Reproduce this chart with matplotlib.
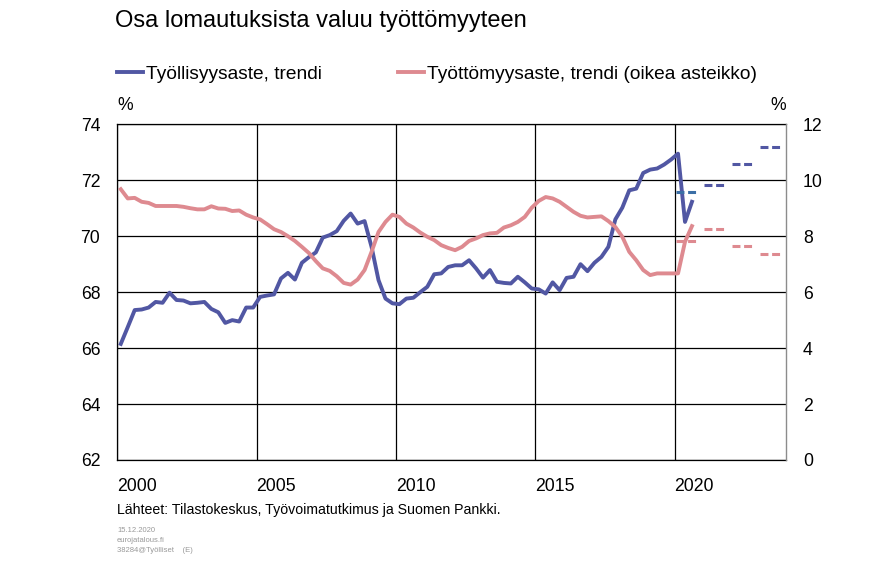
import numpy as np
import pandas as pd
import matplotlib
matplotlib.use("Agg")
import matplotlib.pyplot as plt

plt.rcParams['font.family'] = ['Liberation Sans', 'DejaVu Sans']

# quarterly trend series, 2000Q1 - 2020Q3
quarters = pd.period_range('2000Q1', '2020Q3', freq='Q')

employment = [
    66.15, 66.75, 67.36, 67.38,
    67.45, 67.65, 67.62, 67.98,
    67.72, 67.70, 67.60, 67.62,
    67.65, 67.40, 67.28, 66.90,
    67.00, 66.95, 67.45, 67.45,
    67.83, 67.88, 67.92, 68.49,
    68.69, 68.45, 69.05, 69.25,
    69.42, 69.95, 70.04, 70.18,
    70.55, 70.81, 70.45, 70.54,
    69.62, 68.43, 67.77, 67.60,
    67.57, 67.77, 67.80, 68.00,
    68.19, 68.64, 68.67, 68.90,
    68.96, 68.96, 69.14, 68.85,
    68.52, 68.79, 68.37, 68.33,
    68.31, 68.55, 68.35, 68.13,
    68.10, 67.95, 68.35, 68.07,
    68.51, 68.55, 69.00, 68.75,
    69.05, 69.26, 69.62, 70.60,
    71.02, 71.64, 71.70, 72.26,
    72.38, 72.42, 72.56, 72.74,
    72.95, 70.51, 71.23,
]

unemployment = [
    9.68, 9.35, 9.37, 9.23,
    9.19, 9.08, 9.08, 9.08,
    9.08, 9.05, 9.00, 8.96,
    8.96, 9.07, 8.99, 8.98,
    8.90, 8.92, 8.77, 8.67,
    8.60, 8.43, 8.25, 8.15,
    8.00, 7.83, 7.62, 7.40,
    7.11, 6.85, 6.76, 6.57,
    6.33, 6.27, 6.45, 6.79,
    7.44, 8.15, 8.51, 8.77,
    8.69, 8.45, 8.31, 8.13,
    7.98, 7.86, 7.68, 7.58,
    7.50, 7.62, 7.83, 7.92,
    8.04, 8.10, 8.12, 8.31,
    8.39, 8.51, 8.69, 9.02,
    9.26, 9.40, 9.35, 9.23,
    9.05, 8.87, 8.73, 8.67,
    8.69, 8.71, 8.54, 8.33,
    7.98, 7.44, 7.14, 6.79,
    6.61, 6.67, 6.67, 6.67,
    6.67, 7.80, 8.36,
]

# annual forecasts (E)
fc_years = [2020, 2021, 2022, 2023]
fc_employment = [71.58, 71.82, 72.57, 73.19]
fc_unemployment = [7.82, 8.27, 7.64, 7.35]

year_ticks = [2000, 2005, 2010, 2015, 2020]
left_ticks = [62, 64, 66, 68, 70, 72, 74]
right_ticks = [0, 2, 4, 6, 8, 10, 12]

blue = '#5157a3'
blue2 = '#3b6fa6'
red = '#de8a90'

x = np.array([q.year + (q.quarter - 0.5) / 4 for q in quarters])

fig = plt.figure(figsize=(8.78, 5.73), dpi=100)
ax = fig.add_axes([117.3 / 878, 1 - 460 / 573, (786 - 117.3) / 878, (460 - 124.3) / 573])
ax2 = ax.twinx()

l1, = ax.plot(x, employment, color=blue, lw=2.8, solid_joinstyle='round', zorder=3)
l2, = ax2.plot(x, unemployment, color=red, lw=2.8, solid_joinstyle='round', zorder=3)

# forecast dashes, one per year
for i, yr in enumerate(fc_years):
    ax.plot([yr + 0.05, yr + 0.8], [fc_employment[i], fc_employment[i]],
            color=blue2 if i == 0 else blue, lw=2.2, ls=(0, (2.6, 1.2)),
            dash_capstyle='butt', zorder=3)
    ax2.plot([yr + 0.05, yr + 0.8], [fc_unemployment[i], fc_unemployment[i]],
             color=red, lw=2.2, ls=(0, (2.6, 1.2)), dash_capstyle='butt', zorder=3)

ax.set_xlim(2000, 2024)
ax.set_ylim(62, 74)
ax2.set_ylim(0, 12)

ax.set_xticks(year_ticks)
ax.set_xticklabels([str(y) for y in year_ticks], ha='left')
ax.set_yticks(left_ticks)
ax2.set_yticks(right_ticks)
ax.tick_params(axis='x', length=0, pad=13, labelsize=12.7)
ax.tick_params(axis='y', length=0, pad=12.3, labelsize=12.7)
ax2.tick_params(axis='y', length=0, pad=12.3, labelsize=12.7)

ax.grid(True, color='black', lw=0.9)
ax.set_axisbelow(True)
for sp in ['left', 'top', 'bottom']:
    ax.spines[sp].set_color('black')
    ax.spines[sp].set_linewidth(0.9)
ax.spines['right'].set_visible(False)
for sp in ['left', 'top', 'bottom']:
    ax2.spines[sp].set_visible(False)
ax2.spines['right'].set_color('#8c8c8c')
ax2.spines['right'].set_linewidth(1.0)

fig.text(115 / 878, 1 - 21 / 573, 'Osa lomautuksista valuu työttömyyteen',
         fontsize=17, va='center', ha='left')

leg_kw = dict(frameon=False, fontsize=13.8, handlelength=1.35, handletextpad=0.15,
              borderpad=0, borderaxespad=0, loc='center left')
leg1 = fig.legend([l1], ['Työllisyysaste, trendi'],
                  bbox_to_anchor=(117 / 878, 1 - 74 / 573), **leg_kw)
leg2 = fig.legend([l2], ['Työttömyysaste, trendi (oikea asteikko)'],
                  bbox_to_anchor=(398 / 878, 1 - 74 / 573), **leg_kw)

fig.text(117 / 878, 1 - 105 / 573, '%', fontsize=12.7, ha='left', va='center')
fig.text(786 / 878, 1 - 105 / 573, '%', fontsize=12.7, ha='right', va='center')

fig.text(117 / 878, 1 - 510 / 573,
         'Lähteet: Tilastokeskus, Työvoimatutkimus ja Suomen Pankki.',
         fontsize=10.2, ha='left', va='center')
fig.text(117 / 878, 1 - 530 / 573, '15.12.2020', fontsize=5.5, color='#999999', va='center')
fig.text(117 / 878, 1 - 540 / 573, 'eurojatalous.fi', fontsize=5.5, color='#999999', va='center')
fig.text(117 / 878, 1 - 550 / 573, '38284@Työlliset    (E)', fontsize=5.5, color='#999999', va='center')

fig.savefig('out.png', dpi=100)
